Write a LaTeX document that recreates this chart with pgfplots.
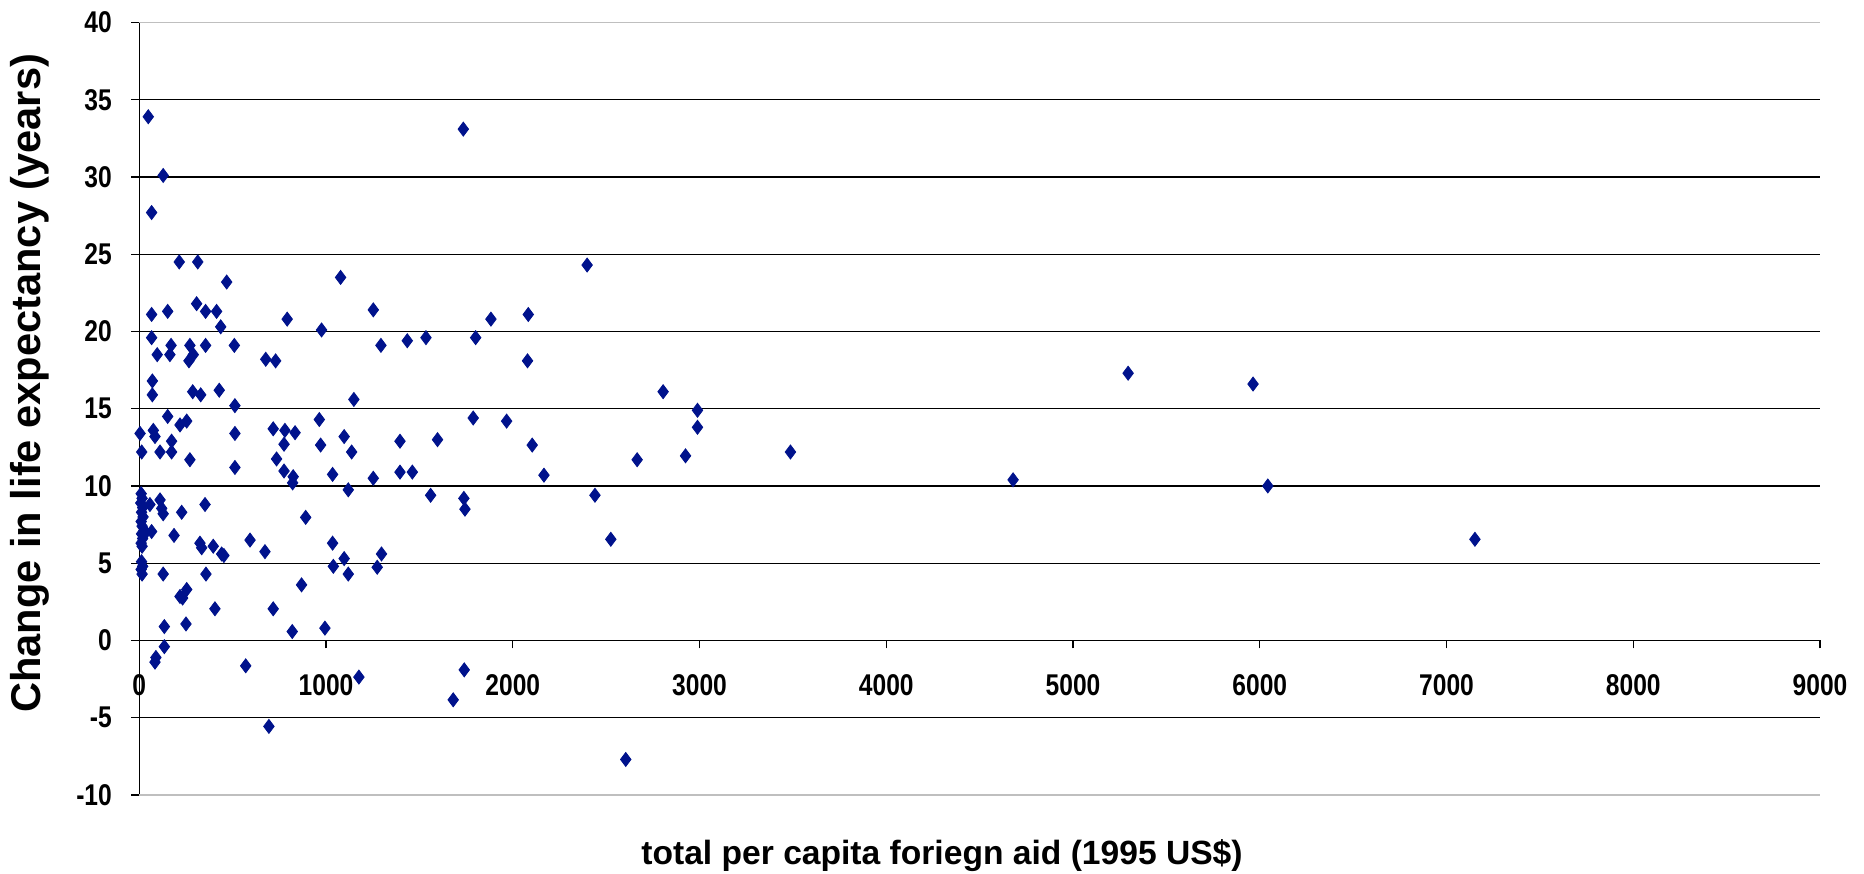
\documentclass[border=0pt]{standalone}
\usepackage{fontspec}
\setmainfont{Liberation Sans}
\newfontfamily\tickfont{Liberation Sans}[FakeStretch=0.82]
\usepackage{pgfplots}
\pgfplotsset{compat=1.18}
\definecolor{navy}{RGB}{0,18,140}

\begin{document}
\begin{tikzpicture}
\begin{axis}[
    scale only axis,
    width=840.35pt,
    height=386.25pt,
    xmin=0, xmax=9000,
    ymin=-10, ymax=40,
    axis x line=middle,
    axis y line=left,
    axis line style={-, black, line width=0.7pt},
    hide obscured x ticks=false,
    hide obscured y ticks=false,
    xtick={0,1000,...,9000},
    ytick={-5,0,...,35},
    extra y ticks={-10,40},
    extra y tick style={grid style={black!25, line width=0.8pt}},
    ymajorgrids,
    grid style={black, line width=0.6pt},
    tick align=outside,
    major tick length=4pt,
    tick style={black, line width=0.6pt},
    scaled x ticks=false,
    /pgf/number format/assume math mode=true,
    /pgf/number format/set thousands separator={},
    ticklabel style={font=\tickfont\bfseries\fontsize{15}{17}\selectfont},
    xticklabel style={anchor=north, yshift=-9.7pt},
    yticklabel style={anchor=east, xshift=-6.2pt},
    xlabel={total per capita foriegn aid (1995 US\$)},
    ylabel={Change in life expectancy (years)},
    xlabel style={font=\bfseries\fontsize{16.8}{19}\selectfont,
        at={(axis description cs:0.4776,0)}, anchor=center, yshift=-30.5pt},
    ylabel style={font=\bfseries\fontsize{20.8}{23}\selectfont,
        at={(axis description cs:-0.0649,0.533)}, anchor=center},
]
\addplot[only marks, mark=diamond*, mark size=3.5pt,
    mark options={fill=navy, draw=navy}] coordinates {
    % near zero
    (48,33.9) (128,30.1) (66,27.7) (66,21.1) (152,21.3) (66,19.6)
    (96,18.5) (170,19.1) (164,18.5) (70,16.8) (70,15.9) (152,14.5)
    (4,13.4) (75,13.6) (84,13.2) (13,12.2) (111,12.2) (173,12.2)
    (173,12.9) (57,8.8) (111,9.1) (120,8.55) (128,8.2) (66,7.05)
    (186,6.8) (128,4.3) (134,0.9) (134,-0.4) (89,-1.1) (84,-1.4)
    (10,9.5) (15,9.2) (8,8.9) (18,8.6) (12,8.3) (20,8.0) (10,7.7)
    (15,7.4) (25,7.1) (35,7.0) (12,6.9) (18,6.6) (10,6.3) (15,6.1)
    (12,5.1) (18,4.8) (10,4.6) (15,4.3)
    % 200 to 1000
    (214,24.5) (313,24.5) (468,23.2) (307,21.8) (355,21.3) (414,21.3)
    (436,20.3) (792,20.8) (976,20.1) (271,19.1) (289,18.5) (266,18.1)
    (355,19.1) (509,19.1) (677,18.2) (730,18.1) (286,16.1) (329,15.9)
    (428,16.2) (512,15.2) (218,13.95) (254,14.2) (271,11.7) (512,13.4)
    (512,11.2) (717,13.7) (780,13.6) (834,13.45) (775,12.7) (735,11.75)
    (775,10.97) (824,10.6) (821,10.2) (964,14.3) (971,12.65) (227,8.3)
    (352,8.8) (325,6.3) (334,6.0) (396,6.1) (441,5.6) (453,5.5)
    (593,6.5) (673,5.75) (891,7.97) (357,4.3) (869,3.6) (218,2.85)
    (254,3.3) (232,2.75) (405,2.05) (717,2.05) (250,1.07) (819,0.58)
    (994,0.8) (570,-1.64) (694,-5.56)
    % 1000 to 2500
    (1078,23.5) (1735,33.1) (2398,24.3) (1253,21.4) (1883,20.8) (2083,21.1)
    (1294,19.1) (1435,19.4) (1535,19.6) (1801,19.6) (2079,18.1) (1149,15.6)
    (1788,14.4) (1967,14.2) (1097,13.2) (1137,12.2) (1035,10.75) (1119,9.75)
    (1253,10.5) (1396,12.9) (1396,10.9) (1462,10.9) (1597,13.0) (1560,9.4)
    (1738,9.2) (1744,8.5) (2104,12.65) (2167,10.7) (2440,9.4) (1035,6.3)
    (1097,5.3) (1039,4.8) (1119,4.3) (1297,5.6) (1274,4.74) (1176,-2.37)
    (1740,-1.9) (1681,-3.84)
    % above 2500
    (2525,6.55) (2605,-7.7) (2666,11.7) (2805,16.1) (2925,11.95) (2989,14.9)
    (2989,13.8) (3487,12.2) (4679,10.4) (5295,17.3) (5964,16.6) (6043,10.0)
    (7152,6.55)
};
\end{axis}
\pgfresetboundingbox
\useasboundingbox ([shift={(-69.65pt,-39.5pt)}]current axis.south west)
    rectangle ([shift={(22pt,11.25pt)}]current axis.north east);
\end{tikzpicture}
\end{document}
